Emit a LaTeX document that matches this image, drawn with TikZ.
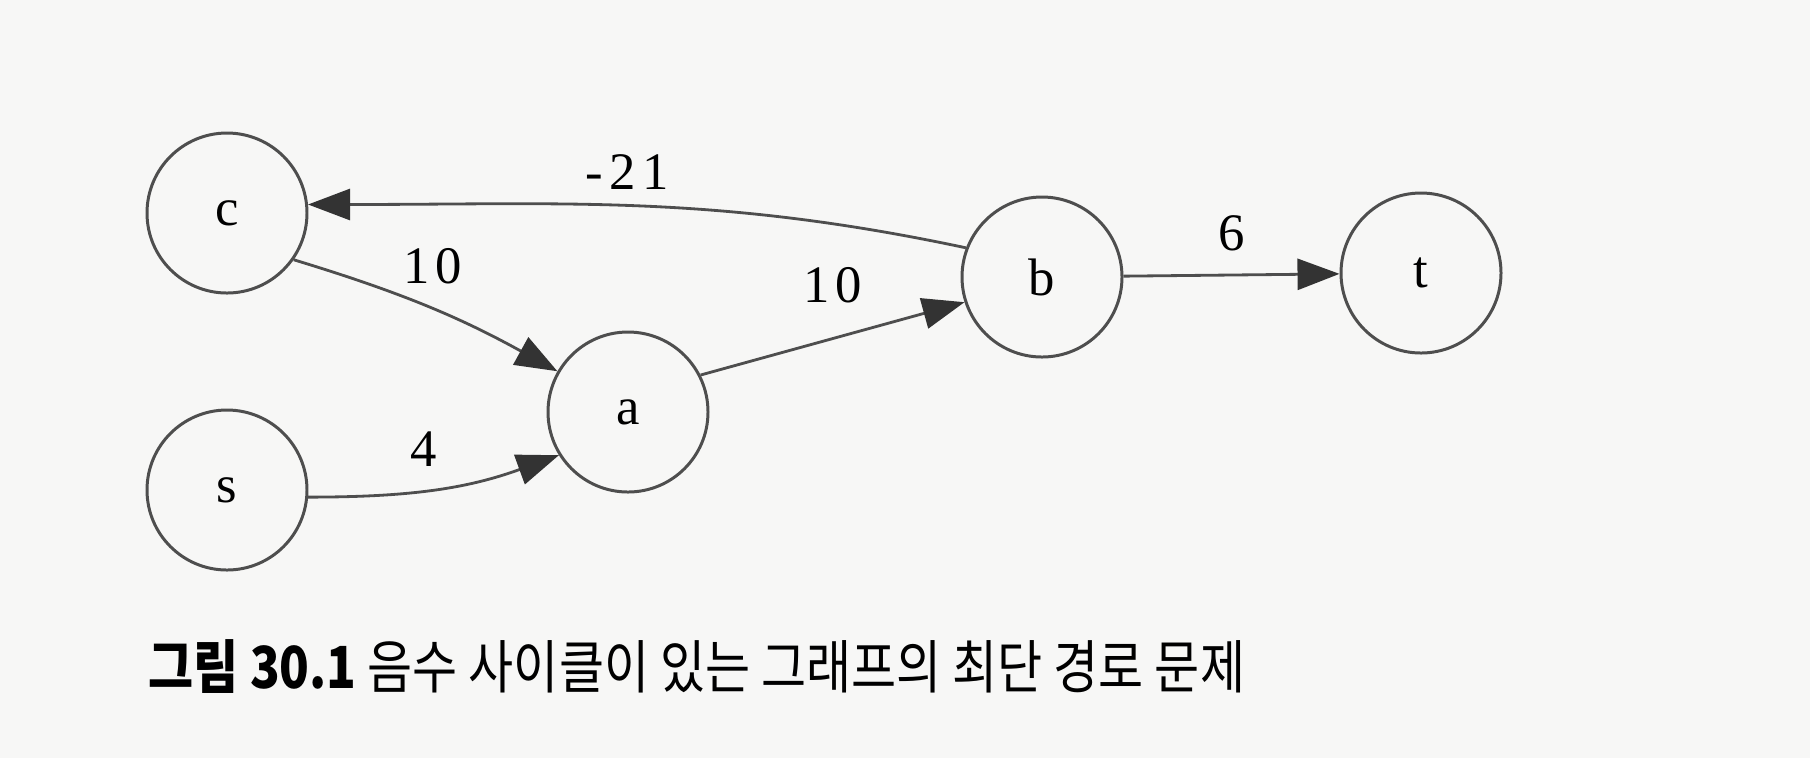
\documentclass[tikz,border=0pt]{standalone}
\usepackage{fontspec}
\setmainfont{Liberation Serif}
\newfontfamily\kor[FakeStretch=0.845]{Noto Sans CJK KR}
\usetikzlibrary{arrows.meta}
\definecolor{pagebg}{RGB}{247,247,246}
\definecolor{inkgray}{RGB}{78,78,78}

\begin{document}
\begin{tikzpicture}[
% Node styles
 vertex/.style={draw=inkgray, circle, line width=0.85pt, minimum size=1.6cm,
 inner sep=0pt, font=\fontsize{15}{18}\selectfont},
% Edge styles
 edge/.style={draw=inkgray, line width=0.8pt,
 -{Triangle[length=4.2mm, width=3.1mm, color=black!80]}},
% Label styles
 weight/.style={font=\fontsize{15}{18}\selectfont\addfontfeature{LetterSpace=12},
 inner sep=2pt, yshift=1.6mm},
 caption/.style={font=\kor\fontsize{16.5}{20}\selectfont, anchor=west, inner sep=0pt}
]
\fill[pagebg] (0,0) rectangle (18.10,-7.58);

\node[vertex] (c) at (2.27,-2.13) {c};
\node[vertex] (s) at (2.27,-4.90) {s};
\node[vertex] (a) at (6.28,-4.12) {a};
\node[vertex] (b) at (10.42,-2.77) {b};
\node[vertex] (t) at (14.21,-2.73) {t};

\draw[edge] (b.159) to[out=168, in=0] node[weight, above, pos=0.52, yshift=-0.8mm] {-21} (c.6);
\draw[edge] (c.-35) to[bend left=6] node[weight, above right, pos=0.4, xshift=-1mm, yshift=-1.1mm] {10} (a.150);
\draw[edge] (a.27) -- node[weight, above, pos=0.5, yshift=1.1mm] {10} (b.198);
\draw[edge] (s.-5) to[out=0, in=200] node[weight, above, pos=0.45] {4} (a.212);
\draw[edge] (b) -- node[weight, above] {6} (t);

\node[caption] (fig) at (1.48,-6.66) {\textbf{그림 30.1} 음수 사이클이 있는 그래프의 최단 경로 문제};

\end{tikzpicture}
\end{document}
